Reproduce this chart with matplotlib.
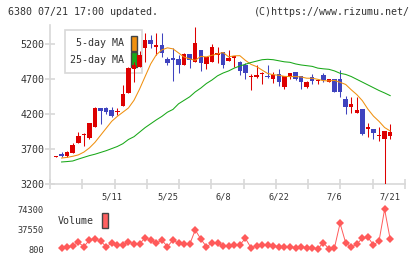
import numpy as np
import matplotlib
matplotlib.use("Agg")
import matplotlib.pyplot as plt
from matplotlib.patches import Patch

# Данные свечей (61 торговый день)
opens = [3595, 3633, 3605, 3652, 3795, 3905, 3857, 4014, 4286, 4286, 4262, 4229, 4319, 4510, 4852, 4881, 5143, 5262, 5157, 5190, 4986,
         5000, 4990, 4905, 5062, 4952, 5119, 4924, 4952, 5052, 5090, 4962, 5010, 4948, 4910, 4729, 4738, 4776, 4748, 4710, 4776, 4595, 4729,
         4805, 4748, 4595, 4729, 4676, 4757, 4667, 4705, 4705, 4419, 4310, 4224, 4276, 3995, 3990, 3895, 3843, 3895]
closes = [3600, 3605, 3662, 3762, 3890, 3924, 4071, 4286, 4248, 4229, 4181, 4252, 4490, 4857, 4905, 5048, 5262, 5200, 5190, 5081, 4938,
          4976, 4905, 5062, 4976, 5219, 4938, 5019, 5162, 5076, 4910, 5010, 5033, 4824, 4795, 4748, 4762, 4786, 4738, 4757, 4667, 4748, 4786,
          4710, 4667, 4662, 4676, 4690, 4690, 4705, 4524, 4524, 4310, 4348, 4267, 3919, 4024, 3938, 3905, 3962, 3948]
highs = [3605, 3662, 3676, 3786, 3943, 3938, 4081, 4300, 4290, 4310, 4300, 4286, 4619, 4881, 4952, 5110, 5357, 5333, 5357, 5357, 5024,
         5143, 5048, 5070, 5062, 5450, 5119, 5019, 5205, 5162, 5090, 5119, 5033, 4962, 4929, 4776, 4900, 4810, 4905, 4810, 4843, 4748, 4786,
         4805, 4748, 4676, 4776, 4690, 4790, 4705, 4705, 4833, 4462, 4448, 4448, 4276, 4071, 3990, 4019, 3962, 4057]
lows = [3595, 3595, 3595, 3652, 3795, 3748, 3843, 4014, 4062, 4200, 4167, 4195, 4319, 4500, 4667, 4881, 4952, 5143, 5048, 5024, 4905,
        4676, 4795, 4905, 4867, 4952, 4824, 4852, 4952, 4929, 4867, 4962, 4881, 4762, 4710, 4552, 4714, 4629, 4724, 4652, 4610, 4567, 4700,
        4690, 4562, 4581, 4638, 4638, 4667, 4667, 4524, 4452, 4210, 4219, 4224, 3905, 3881, 3852, 3824, 3150, 3848]

# Скользящие средние и объём (со 2-го дня)
ma5 = [3575, 3585, 3600, 3620, 3660, 3720, 3800, 3900, 4000, 4100, 4170, 4230, 4290, 4400, 4560, 4740, 4920, 5050, 5120, 5150,
       5135, 5077, 5018, 4992, 4971, 5028, 5020, 5043, 5063, 5083, 5021, 5035, 5038, 4971, 4914, 4882, 4832, 4783, 4766, 4758,
       4742, 4739, 4739, 4734, 4716, 4715, 4700, 4681, 4677, 4685, 4657, 4627, 4551, 4482, 4395, 4274, 4174, 4099, 4011, 3962]
ma25 = [3519, 3525, 3533, 3560, 3585, 3610, 3630, 3655, 3680, 3710, 3740, 3780, 3840, 3880, 3945, 4010, 4065, 4120, 4170, 4230,
        4270, 4350, 4400, 4450, 4520, 4575, 4640, 4690, 4750, 4790, 4820, 4860, 4890, 4915, 4940, 4960, 4980, 4986, 4980, 4965,
        4950, 4943, 4920, 4905, 4895, 4885, 4860, 4850, 4843, 4820, 4786, 4770, 4740, 4700, 4660, 4620, 4580, 4540, 4505, 4467]
volume = [3740, 5580, 7420, 13600, 5580, 17900, 19700, 16100, 5580, 11800, 8700, 8700, 14800, 10500, 10500, 22100, 17900, 11800,
          17900, 5580, 17900, 11800, 10000, 10000, 36300, 19700, 5580,
          11800, 13000, 6860, 6860, 8700, 8700, 21000, 3800, 6860, 8700, 8700, 6860, 5640, 5640, 5640, 3800, 5640, 3800, 3800,
          1500, 13000, 1500, 3800, 48600, 13000, 4500, 10500, 21000, 22900, 8700, 16100, 74300, 19200]

date_idx = [10, 20, 30, 40, 50, 60]
date_labels = ["5/11", "5/25", "6/8", "6/22", "7/6", "7/21"]
price_ticks = [3200, 3700, 4200, 4700, 5200]
vol_ticks = [800, 37550, 74300]

MONO = "DejaVu Sans Mono"
RED = "#dd0000"
BLUE = "#3f43bf"
GRAY = "#d8d8d8"
TXT = "#333333"

fig = plt.figure(figsize=(4.2, 2.59), dpi=100)
W, H = 420, 259

# Основной график
ax = fig.add_axes([50 / W, (H - 184.3) / H, 355 / W, (184.3 - 25) / H])
k = np.arange(len(opens))
o = np.array(opens)
c = np.array(closes)
up = c >= o
colors = np.where(up, RED, BLUE)
body_bottom = np.minimum(o, c)
body_h = np.maximum(np.abs(c - o), 12)

ax.vlines(k, lows, highs, colors=colors, lw=0.75, zorder=3)
ax.bar(k, body_h, bottom=body_bottom, width=0.8, color=colors, lw=0, zorder=4)
ax.plot(k[1:], ma5, color="#f0900f", lw=0.75, zorder=5)
ax.plot(k[1:], ma25, color="#18a818", lw=0.75, zorder=5)

x0, x1 = -1.08, 62.66
ax.set_xlim(x0, x1)
ax.set_ylim(3200, 5476)
for s in ["top", "right"]:
    ax.spines[s].set_visible(False)
for s in ["left", "bottom"]:
    ax.spines[s].set_color(GRAY)
    ax.spines[s].set_linewidth(1.2)

ax.set_yticks(price_ticks)
ax.set_yticklabels([str(v) for v in price_ticks], family=MONO, fontsize=7.2, color=TXT)
ax.set_xticks(np.linspace(x0, x1, 12))
ax.set_xticklabels([])
ax.set_xticks(date_idx, date_labels, minor=True)
for lab in ax.get_xticklabels(minor=True):
    lab.set_family(MONO)
ax.tick_params(axis="y", direction="inout", length=6.5, width=1.2, color=GRAY, pad=1)
ax.tick_params(axis="x", which="major", direction="inout", length=7.5, width=1.2, color=GRAY)
ax.tick_params(axis="x", which="minor", length=0, labelsize=6.2, labelcolor=TXT, pad=6)

# Легенда скользящих средних
handles = [Patch(facecolor="#f0900f", edgecolor="#444444", lw=1),
           Patch(facecolor="#18a818", edgecolor="#444444", lw=1)]
leg = ax.legend(handles, ["5-day MA", "25-day MA"], loc="upper left",
                bbox_to_anchor=(65 / W, 1 - 30 / H), bbox_transform=fig.transFigure,
                markerfirst=False, fancybox=False, framealpha=1, edgecolor=GRAY,
                prop={"family": MONO, "size": 7.2}, handlelength=0.62, handleheight=2.0,
                handletextpad=0.6, borderpad=0.55, labelspacing=0.1, borderaxespad=0)
for t in leg.get_texts():
    t.set_color(TXT)
leg.get_frame().set_linewidth(1.2)
leg.set_zorder(1)

# Объём
ax2 = fig.add_axes([50 / W, 7 / H, 355 / W, 47 / H])
ax2.plot(k[1:], volume, color="#ff5a5a", lw=0.7, marker="D", markersize=4.4,
         markeredgewidth=0, zorder=3)
ax2.set_xlim(x0, x1)
ax2.set_ylim(-4161, 82200)
for s in ax2.spines.values():
    s.set_visible(False)
ax2.set_xticks([])
ax2.set_yticks(vol_ticks)
ax2.set_yticklabels([str(v) for v in vol_ticks], family=MONO, fontsize=6.2, color=TXT)
ax2.tick_params(axis="y", length=0, pad=4.3)
vleg = ax2.legend([Patch(facecolor="#ff6060", edgecolor="#444444", lw=1)], ["Volume"],
                  loc="upper left", bbox_to_anchor=(58 / W, 1 - 213 / H),
                  bbox_transform=fig.transFigure, markerfirst=False, frameon=False,
                  prop={"family": MONO, "size": 7.2}, handlelength=0.55, handleheight=2.0,
                  handletextpad=0.8, borderpad=0, borderaxespad=0)
for t in vleg.get_texts():
    t.set_color(TXT)

# Заголовки
fig.text(8 / W, 1 - 12 / H, "6380 07/21 17:00 updated.", family=MONO, fontsize=7.2,
         color=TXT, va="center", ha="left")
fig.text(410 / W, 1 - 12 / H, "(C)https://www.rizumu.net/", family=MONO, fontsize=7.2,
         color=TXT, va="center", ha="right")

fig.savefig("out.png", dpi=100, facecolor="white")
